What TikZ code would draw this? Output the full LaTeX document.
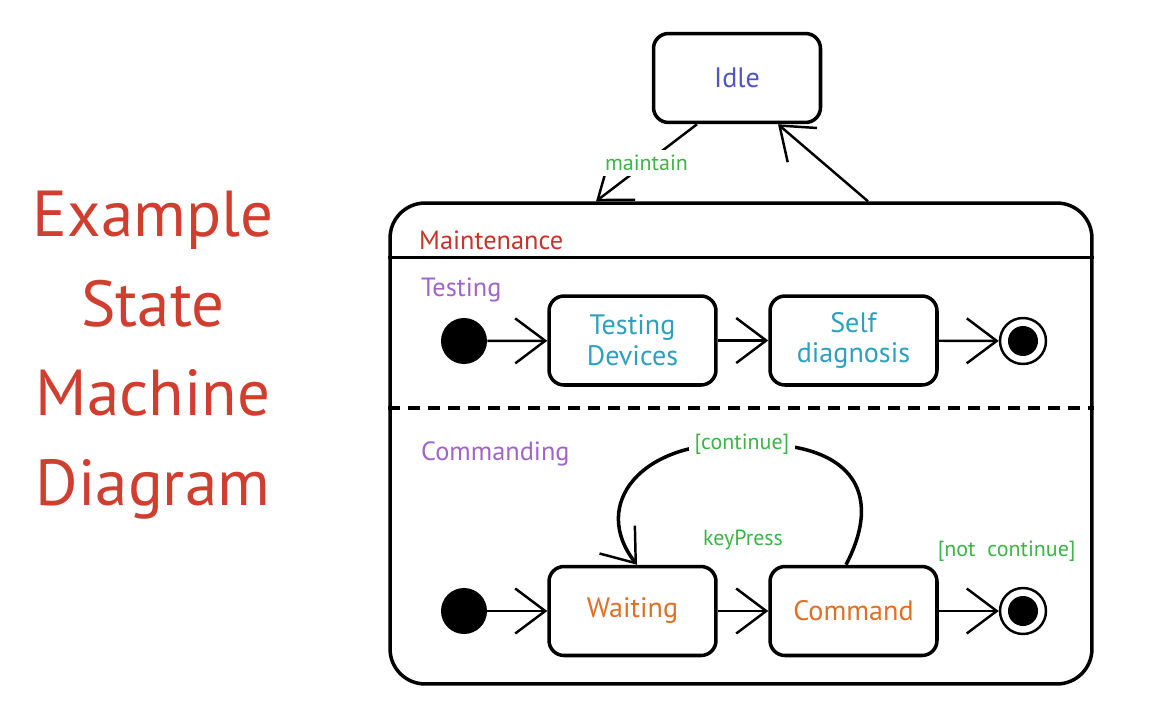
\documentclass[tikz,border=0pt]{standalone}
\usepackage{fontspec}
\setmainfont{PT Sans}
\usetikzlibrary{arrows.meta, positioning}
\definecolor{titlered}{RGB}{208, 62, 48}
\definecolor{maintred}{RGB}{200, 50, 40}
\definecolor{idleblue}{RGB}{80, 85, 195}
\definecolor{subpurple}{RGB}{160, 100, 200}
\definecolor{testteal}{RGB}{45, 160, 190}
\definecolor{cmdorange}{RGB}{225, 110, 35}
\definecolor{lblgreen}{RGB}{60, 180, 70}

\begin{document}
\begin{tikzpicture}[x=0.02cm, y=-0.02cm,
			zustand/.style={draw, line width=2pt, rounded corners=0.3cm, minimum width=3.34cm, minimum height=1.78cm, align=center, font=\fontsize{16}{17.5}\selectfont},
			start/.style={circle, fill=black, minimum size=0.92cm, inner sep=0pt},
			ende/.style={circle, draw, line width=1.4pt, minimum size=0.92cm, inner sep=0pt, path picture={\fill (path picture bounding box.center) circle (0.3cm);}},
			trans/.style={line width=1.4pt, -{Straight Barb[length=6mm, width=9mm, line width=1.4pt]}},
			lbl/.style={text=lblgreen, font=\fontsize{12.5}{14}\selectfont, fill=white, inner sep=3pt},
			sub/.style={text=subpurple, anchor=west, font=\fontsize{15}{17}\selectfont}]
			%Bildbereich
			\path[use as bounding box] (0,0) rectangle (1156,710);
			%Titel
			\node[text=titlered, align=center, font=\fontsize{37}{51}\selectfont] (titel) at (153,355) {Example\\State\\Machine\\Diagram};
			%Zustaende oben
			\node[zustand, text=idleblue] (idle) at (737,78) {Idle};
			\node[draw, line width=2pt, rounded corners=0.7cm, minimum width=14.04cm, minimum height=9.62cm] (maint) at (741,443.5) {};
			\node[text=maintred, anchor=west, font=\fontsize{15}{17}\selectfont] (maintlbl) at (413,240) {Maintenance};
			\draw[line width=2pt] ([yshift=-1.12cm]maint.north west) -- ([yshift=-1.12cm]maint.north east);
			\draw[line width=2pt, dash pattern=on 0.24cm off 0.16cm] ([yshift=-4.14cm]maint.north west) -- ([yshift=-4.14cm]maint.north east);
			% Uebergaenge Idle <-> Maintenance
			\draw[trans] ([xshift=-0.8cm]idle.south) -- node[lbl] {maintain} ([xshift=-2.9cm]maint.north);
			\draw[trans] ([xshift=2.54cm]maint.north) -- ([xshift=0.82cm]idle.south);
			%Testing
			\node[sub] (testing) at (415,290) {Testing};
			\node[start] (init1) at (464,341) {};
			\node[zustand, text=testteal] (testdev) at (632.5,340.5) {Testing\\Devices};
			\node[zustand, text=testteal] (selfdiag) at (853.5,340.5) {Self\\diagnosis};
			\node[ende] (fin1) at (1023,341) {};
			\draw[trans] (init1) -- (testdev);
			\draw[trans] (testdev) -- (selfdiag);
			\draw[trans] (selfdiag) -- (fin1);
			%Commanding
			\node[sub] (commanding) at (415,454) {Commanding};
			\node[start] (init2) at (464,611) {};
			\node[zustand, text=cmdorange] (waiting) at (632.5,611) {Waiting};
			\node[zustand, text=cmdorange] (command) at (853.5,611) {Command};
			\node[ende] (fin2) at (1023,611) {};
			\draw[trans] (init2) -- (waiting);
			\draw[trans] (waiting) -- node[lbl, above=1.1cm] {keyPress} (command);
			\draw[trans] (command) -- node[lbl, above right=0.85cm and -0.75cm] {[not~~continue]} (fin2);
			% Schleife
			\draw[trans, line width=2pt] ([xshift=-0.15cm]command.north) .. controls (885,490) and (850,440) .. (742,444) node[lbl] {[continue]} .. controls (640,440) and (590,505) .. ([xshift=0.09cm]waiting.north);
		\end{tikzpicture}
\end{document}
